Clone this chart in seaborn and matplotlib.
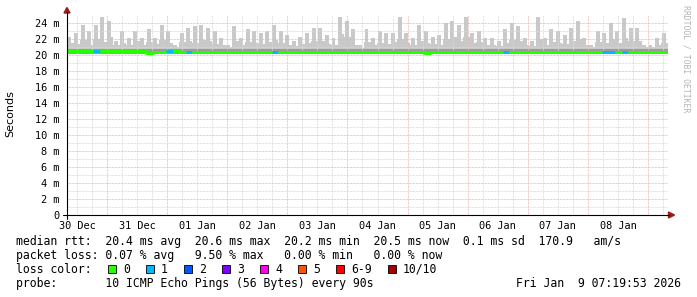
import numpy as np
import pandas as pd
import matplotlib
matplotlib.use("Agg")
import matplotlib.pyplot as plt
import seaborn as sns
from matplotlib.patches import Rectangle, Polygon

# ---------------- data ----------------
day_labels = ["30 Dec", "31 Dec", "01 Jan", "02 Jan", "03 Jan",
              "04 Jan", "05 Jan", "06 Jan", "07 Jan", "08 Jan"]
y_ticks = [0, 2, 4, 6, 8, 10, 12, 14, 16, 18, 20, 22, 24]
y_labels = ["0", "2 m", "4 m", "6 m", "8 m", "10 m", "12 m", "14 m",
            "16 m", "18 m", "20 m", "22 m", "24 m"]

# smoke maximum (ms) per ~2.6 h bin
smoke_top = [22.3, 22.8, 23.8, 23.0, 23.7, 24.8, 24.2, 21.7, 23.0, 22.1,
             23.0, 22.1, 23.2, 22.1, 23.8, 23.0, 21.3, 22.8, 23.4, 23.6,
             23.8, 23.4, 23.0, 22.1, 21.3, 23.6, 22.1, 23.2, 23.0, 22.8,
             23.0, 23.8, 23.0, 22.5, 21.7, 22.3, 22.8, 23.4, 23.4, 22.5,
             22.1, 24.8, 24.2, 23.2, 21.3, 23.2, 22.1, 23.0, 22.8, 22.8,
             24.8, 22.8, 22.1, 23.8, 23.0, 22.3, 22.5, 24.0, 24.2, 23.8,
             24.8, 22.8, 23.0, 22.1, 22.1, 21.7, 23.2, 24.0, 23.6, 22.1,
             21.7, 24.8, 22.1, 23.2, 23.0, 22.5, 23.4, 24.2, 22.1, 21.3,
             23.0, 22.8, 24.0, 23.0, 24.6, 23.4, 23.4, 21.3, 21.3, 22.1,
             22.8]
# typical smoke body level (ms)
smoke_body = [21.5, 21.4, 21.9, 21.3, 22.0, 21.6, 22.3, 21.2, 21.5, 21.3,
              21.8, 21.2, 21.6, 21.4, 21.9, 21.5, 21.0, 21.6, 21.8, 21.5,
              21.9, 21.7, 21.4, 21.2, 21.0, 21.8, 21.3, 21.6, 21.5, 21.4,
              21.6, 21.9, 21.5, 21.3, 21.1, 21.4, 21.5, 21.8, 21.7, 21.4,
              21.2, 22.6, 22.2, 21.3, 20.9, 21.6, 21.2, 21.5, 21.4, 21.6,
              22.0, 21.5, 21.3, 21.8, 21.5, 21.4, 21.3, 22.0, 22.2, 21.8,
              22.3, 21.5, 21.6, 21.2, 21.3, 21.1, 21.5, 21.9, 21.7, 21.3,
              21.1, 22.0, 21.3, 21.6, 21.5, 21.4, 21.7, 22.0, 21.3, 21.0,
              21.6, 21.5, 22.0, 21.5, 22.1, 21.8, 21.7, 21.0, 21.0, 21.3,
              21.5]
median_rtt = [20.5, 20.5, 20.5, 20.5, 20.5, 20.5, 20.5, 20.5, 20.5, 20.5,
              20.5, 20.5, 20.3, 20.4, 20.4, 20.5, 20.5, 20.4, 20.4, 20.4,
              20.4, 20.4, 20.4, 20.4, 20.4, 20.4, 20.4, 20.4, 20.4, 20.4,
              20.4, 20.4, 20.4, 20.4, 20.4, 20.4, 20.4, 20.4, 20.4, 20.4,
              20.4, 20.4, 20.4, 20.4, 20.4, 20.4, 20.4, 20.4, 20.4, 20.4,
              20.4, 20.4, 20.4, 20.4, 20.3, 20.4, 20.4, 20.4, 20.4, 20.4,
              20.4, 20.4, 20.4, 20.4, 20.4, 20.4, 20.4, 20.4, 20.4, 20.4,
              20.4, 20.4, 20.4, 20.4, 20.4, 20.4, 20.4, 20.4, 20.4, 20.4,
              20.4, 20.4, 20.4, 20.4, 20.4, 20.4, 20.4, 20.4, 20.4, 20.4,
              20.4]
loss = [0, 0, 0, 0, 1, 0, 0, 0, 0, 0,
        0, 0, 0, 0, 0, 1, 0, 0, 1, 0,
        0, 0, 0, 0, 0, 0, 0, 0, 0, 0,
        0, 1, 0, 0, 0, 0, 0, 0, 0, 0,
        0, 0, 0, 0, 0, 0, 0, 0, 0, 0,
        0, 0, 0, 0, 0, 0, 0, 0, 0, 0,
        0, 0, 0, 0, 0, 0, 1, 0, 0, 0,
        0, 0, 0, 0, 0, 0, 0, 0, 0, 0,
        0, 1, 1, 0, 1, 0, 0, 0, 0, 0,
        0]

loss_labels = ["0", "1", "2", "3", "4", "5", "6-9", "10/10"]
loss_colors = ["#26ff00", "#00b8ff", "#0059ff", "#7e00ff", "#ff00ea",
               "#ff5500", "#ff0000", "#a10000"]

line_rtt = "median rtt:  20.4 ms avg  20.6 ms max  20.2 ms min  20.5 ms now  0.1 ms sd  170.9   am/s"
line_loss = "packet loss: 0.07 % avg   9.50 % max   0.00 % min   0.00 % now"
line_color = "loss color:"
line_probe = "probe:       10 ICMP Echo Pings (56 Bytes) every 90s"
stamp = "Fri Jan  9 07:19:53 2026"
watermark = "RRDTOOL / TOBI OETIKER"
ylabel = "Seconds"

# ---------------- figure ----------------
sns.set_theme(style="white")
plt.rcParams["font.family"] = ["DejaVu Sans Mono"]

W, H = 697, 297
fig = plt.figure(figsize=(W / 100, H / 100), dpi=100)
fig.patch.set_facecolor("white")

L, R, B, T = 67, 668, 215, 15
ax = fig.add_axes([L / W, 1 - B / H, (R - L) / W, (B - T) / H])
ax.set_facecolor("white")
SPAN = 240.0
ax.set_xlim(0, SPAN)
ax.set_ylim(0, 25)

n = len(smoke_top)
w = SPAN / n
centers = (np.arange(n) + 0.5) * w
base = 20.15

top = np.array(smoke_top)
body = np.array(smoke_body)
med = np.array(median_rtt)

smoke_col = "#c9c9c9"
ax.bar(centers, body - base, bottom=base, width=w, color=smoke_col, lw=0, zorder=2)
ax.bar(centers - 0.15 * w, top - base, bottom=base, width=0.6 * w, color=smoke_col, lw=0, zorder=2)
ax.bar(centers, 0.65, bottom=base, width=w, color="#9a9a9a", lw=0, zorder=3)

# grid (drawn over the smoke)
px = 0.72
for h in np.arange(4, SPAN, 6):
    major = (h - 16) % 24 == 0
    ax.axvline(h, color="#ecb4b4" if major else "#d8d8d8", lw=px,
               dashes=(px, px), zorder=4)
for yv in range(1, 25):
    major = yv % 2 == 0
    ax.axhline(yv, color="#ecb4b4" if major else "#d8d8d8", lw=px,
               dashes=(px, px), zorder=4)

df = pd.DataFrame({"hour": centers, "median": med})
sns.lineplot(data=df, x="hour", y="median", drawstyle="steps-mid",
             color=loss_colors[0], lw=2.1, ax=ax, zorder=6)
for c, m, l in zip(centers, med, loss):
    ax.hlines(m, c - w / 2, c + w / 2, color=loss_colors[l], lw=2.1, zorder=7)

ax.set_xlabel("")
ax.set_ylabel("")
ax.set_xticks(np.arange(4, SPAN, 24), day_labels)
ax.set_yticks(y_ticks, y_labels)
ax.tick_params(axis="x", length=0, pad=4, labelsize=7.4, colors="black")
ax.tick_params(axis="y", length=0, pad=5.5, labelsize=7.4, colors="black")
for s in ax.spines.values():
    s.set_visible(False)
ax.grid(False)

# ---------------- overlay in pixel coordinates ----------------
ov = fig.add_axes([0, 0, 1, 1])
ov.set_xlim(0, W)
ov.set_ylim(H, 0)
ov.axis("off")
ov.patch.set_alpha(0)

ov.plot([67, 67], [219, 12], color="black", lw=0.8)
ov.plot([63, 669], [215, 215], color="black", lw=0.8)
ov.add_patch(Polygon([(64, 13), (70, 13), (67, 7.5)], closed=True, color="#9a1a1a"))
ov.add_patch(Polygon([(668.5, 212), (668.5, 218), (674.5, 215)], closed=True, color="#9a1a1a"))

ov.text(10, 114, ylabel, rotation=90, ha="center", va="center",
        family="DejaVu Sans", fontsize=8, color="black")
ov.text(686, 5, watermark, rotation=270, ha="center", va="top",
        fontsize=5.9, color="#b4b4b4")

fs = 8.3
ov.text(16, 241.5, line_rtt, ha="left", va="center", fontsize=fs, color="black")
ov.text(16, 255.5, line_loss, ha="left", va="center", fontsize=fs, color="black")
ov.text(16, 269.5, line_color, ha="left", va="center", fontsize=fs, color="black")
ov.text(16, 283.5, line_probe, ha="left", va="center", fontsize=fs, color="black")
ov.text(681, 283.5, stamp, ha="right", va="center", fontsize=fs, color="black")

xq = 108
for lab, col in zip(loss_labels, loss_colors):
    ov.add_patch(Rectangle((xq, 265), 7.5, 7.5, facecolor=col,
                           edgecolor="black", lw=0.6))
    ov.text(xq + 15, 269.5, lab, ha="left", va="center", fontsize=fs, color="black")
    xq += 15 + 7 * len(lab) + 16

fig.savefig("out.png", dpi=100, facecolor="white")
